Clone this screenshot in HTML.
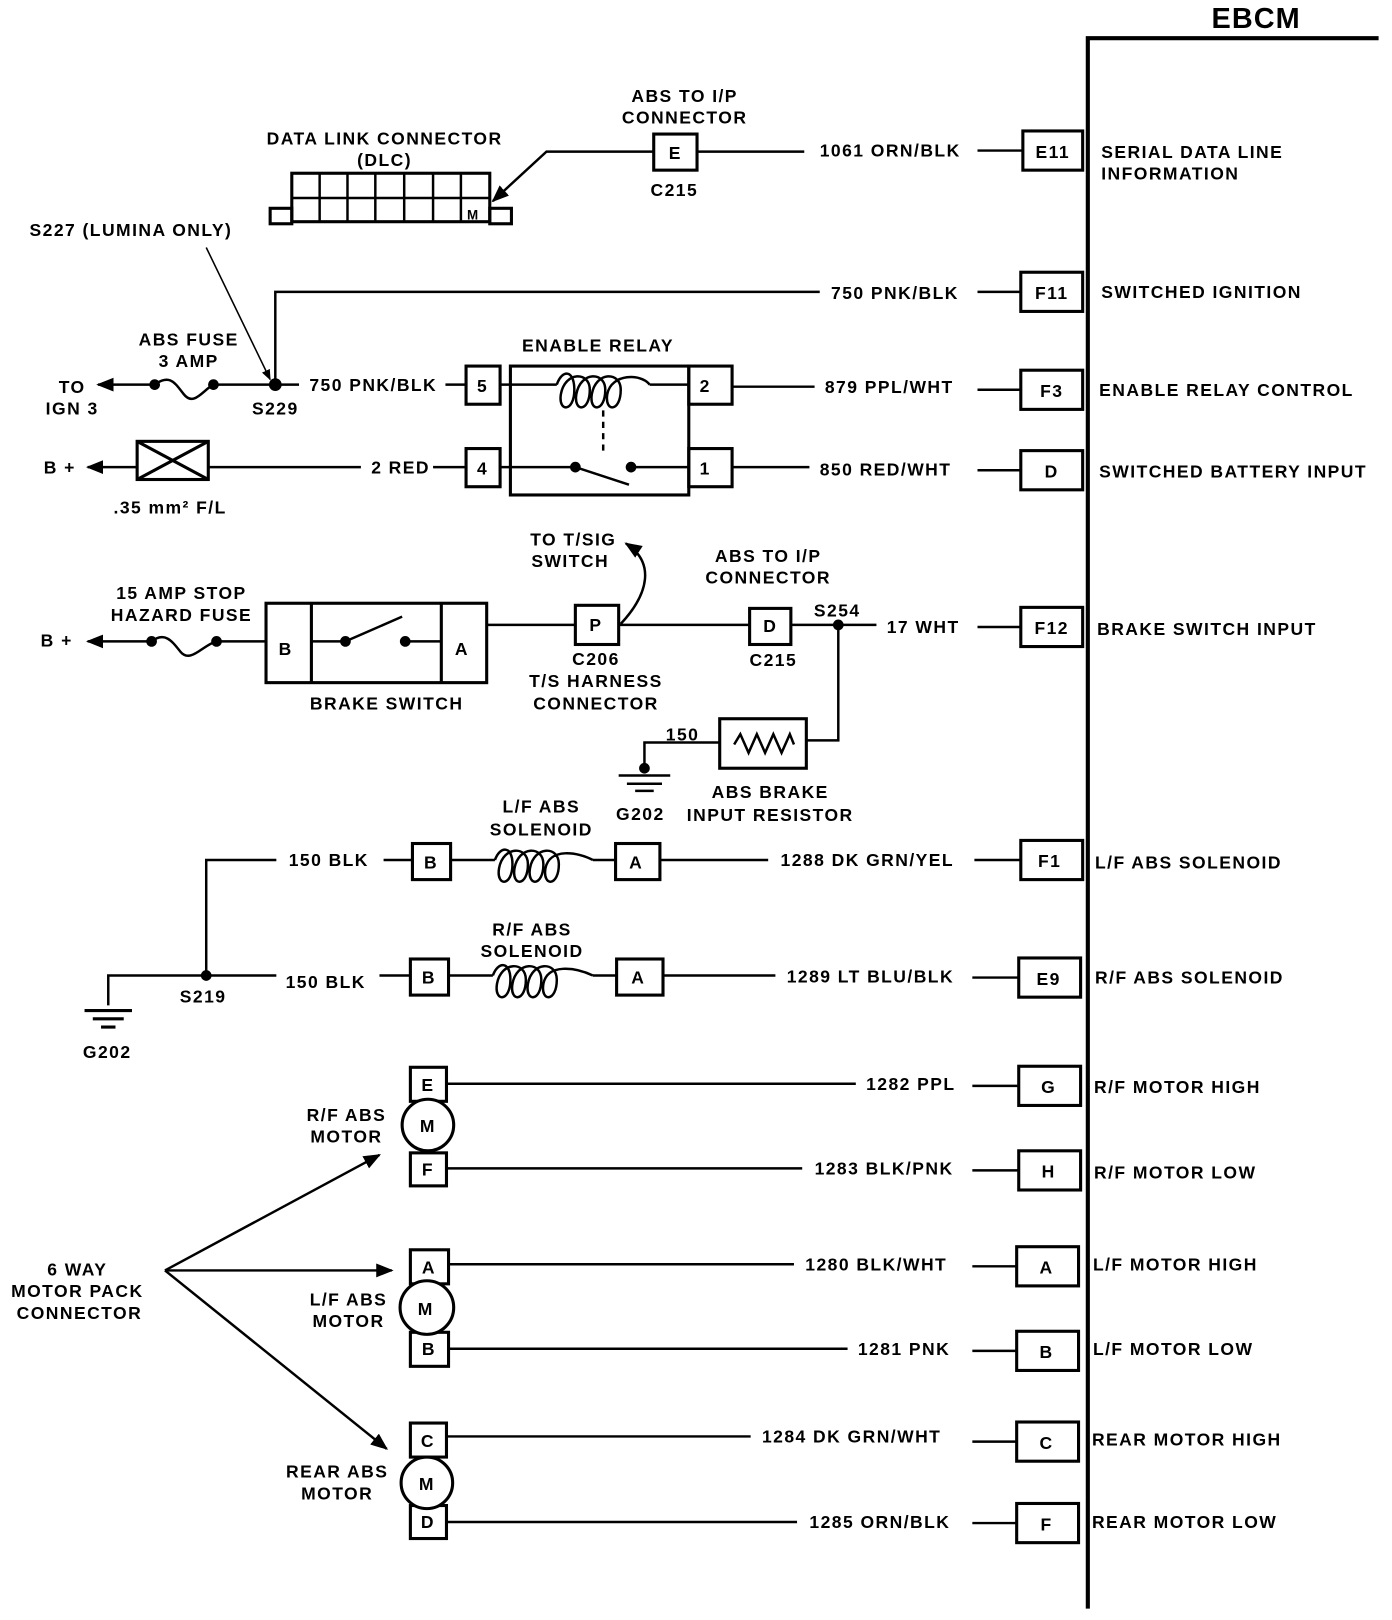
<!DOCTYPE html>
<html><head><meta charset="utf-8"><style>
html,body{margin:0;padding:0;background:#fff}
svg{display:block}
text{font-family:"Liberation Sans",sans-serif;font-weight:bold;font-size:17px;fill:#000;letter-spacing:1.4px}
.m{text-anchor:middle}
</style></head><body>
<svg width="1392" height="1620" viewBox="0 0 1350 1571" preserveAspectRatio="none" xmlns="http://www.w3.org/2000/svg">
<defs><marker id="ar" viewBox="0 0 10 10" refX="9" refY="5" markerWidth="7" markerHeight="7" orient="auto"><path d="M0,1 L10,5 L0,9 z" fill="#000"/></marker></defs>
<g stroke="#000" fill="none" stroke-width="2.4">
<path d="M1055,1560 V37 H1337" stroke-width="4"/>
<g stroke-width="3" fill="#fff">
<rect x="992" y="127" width="58" height="38"/><rect x="990" y="264" width="60" height="38"/>
<rect x="990" y="359" width="60" height="38"/><rect x="990" y="437" width="60" height="38"/>
<rect x="990" y="589" width="60" height="38"/><rect x="990" y="815" width="60" height="38"/>
<rect x="988" y="929" width="60" height="38"/><rect x="988" y="1034" width="60" height="38"/>
<rect x="988" y="1116" width="60" height="38"/><rect x="986" y="1209" width="60" height="38"/>
<rect x="986" y="1291" width="60" height="38"/><rect x="986" y="1379" width="60" height="38"/>
<rect x="986" y="1458" width="60" height="38"/>
</g>
<path d="M948,146H992 M948,283H990 M948,378H990 M948,456H990 M948,608H990 M945,834H990 M943,948H988 M943,1053H988 M943,1135H988 M943,1228H986 M943,1310H986 M943,1398H986 M943,1477H986"/>
<rect x="634" y="130" width="42" height="35" stroke-width="3"/>
<path d="M676,147H780"/>
<path d="M634,147H530L478,195" marker-end="url(#ar)"/>
<rect x="283" y="168" width="192" height="47" stroke-width="3"/>
<path d="M283,192H475 M310,168V215 M337,168V215 M364,168V215 M392,168V215 M420,168V215 M447,168V215"/>
<rect x="262" y="202" width="21" height="15" stroke-width="3"/><rect x="475" y="202" width="21" height="15" stroke-width="3"/>
<path d="M200,240L262,368" marker-end="url(#ar)" stroke-width="1.5"/>
<path d="M267,373V283H795"/>
<path d="M150,373H95" marker-end="url(#ar)"/>
<path d="M150,373 C165,362 170,372 178,382 C188,395 197,378 207,373 H290"/>
<circle cx="150" cy="373" r="4" fill="#000"/><circle cx="207" cy="373" r="4" fill="#000"/><circle cx="267" cy="373" r="5" fill="#000"/>
<path d="M432,373H452"/>
<rect x="452" y="355" width="33" height="37" stroke-width="3"/>
<rect x="495" y="355" width="173" height="125" stroke-width="3"/>
<rect x="668" y="355" width="42" height="37" stroke-width="3"/>
<path d="M485,373H495 M495,373H540 M630,373H668"/>
<path d="M540,373 C545,358 557,358 557,378 C557,400 541,400 544,382 C548,360 572,360 572,378 C572,400 556,400 559,382 C563,360 587,360 587,378 C587,400 571,400 574,382 C578,360 602,360 602,378 C602,400 586,400 589,382 C593,362 622,362 630,373"/>
<path d="M585,398V442" stroke-dasharray="6,5"/>
<path d="M710,375H790"/>
<path d="M133,453H85" marker-end="url(#ar)"/>
<rect x="133" y="428" width="69" height="37" stroke-width="3"/>
<path d="M133,428L202,465 M202,428L133,465" stroke-width="3"/>
<path d="M202,453H350 M420,453H452"/>
<rect x="452" y="435" width="33" height="37" stroke-width="3"/>
<rect x="668" y="435" width="42" height="37" stroke-width="3"/>
<path d="M485,453H558L610,470 M612,453H668 M710,453H785"/>
<circle cx="558" cy="453" r="4" fill="#000"/><circle cx="612" cy="453" r="4" fill="#000"/>
<path d="M147,622H85" marker-end="url(#ar)"/>
<path d="M147,622 C160,612 167,622 175,632 C185,644 197,625 210,622 H258"/>
<circle cx="147" cy="622" r="4" fill="#000"/><circle cx="210" cy="622" r="4" fill="#000"/>
<rect x="258" y="585" width="214" height="77" stroke-width="3"/>
<path d="M302,585V662 M428,585V662" stroke-width="3"/>
<path d="M302,622H335L390,598 M393,622H428"/>
<circle cx="335" cy="622" r="4" fill="#000"/><circle cx="393" cy="622" r="4" fill="#000"/>
<path d="M472,606H558"/>
<rect x="558" y="587" width="42" height="38" stroke-width="3"/>
<path d="M600,606H727"/>
<path d="M602,605 C630,575 635,545 607,527" marker-end="url(#ar)"/>
<rect x="727" y="590" width="40" height="35" stroke-width="3"/>
<path d="M767,606H850 M813,606V718H782"/>
<circle cx="813" cy="606" r="4" fill="#000"/>
<rect x="698" y="697" width="84" height="48" stroke-width="3"/>
<path d="M712,722L718,712L726,730L734,712L742,730L750,712L758,730L766,712L770,722"/>
<path d="M698,720H625V745"/>
<circle cx="625" cy="745" r="4" fill="#000"/>
<path d="M600,752H650 M608,760H642 M616,767H634"/>
<path d="M200,946V834H268 M372,834H400"/>
<rect x="400" y="818" width="37" height="35" stroke-width="3"/>
<path d="M437,834H480 M575,834H597 M640,834H745"/>
<path d="M480,834 C485,820 497,820 497,838 C497,860 481,860 484,842 C488,820 512,820 512,838 C512,860 496,860 499,842 C503,820 527,820 527,838 C527,860 511,860 514,842 C518,820 542,820 542,838 C542,860 526,860 529,842 C533,822 560,826 575,834"/>
<rect x="597" y="818" width="43" height="35" stroke-width="3"/>
<path d="M105,975V946H268 M368,946H398"/>
<circle cx="200" cy="946" r="4" fill="#000"/>
<path d="M82,980H128 M90,988H120 M98,996H112" stroke-width="3"/>
<rect x="398" y="930" width="37" height="35" stroke-width="3"/>
<path d="M435,946H478 M575,946H598 M643,946H752"/>
<path d="M478,946 C483,932 495,932 495,950 C495,972 479,972 482,954 C486,932 510,932 510,950 C510,972 494,972 497,954 C501,932 525,932 525,950 C525,972 509,972 512,954 C516,932 540,932 540,950 C540,972 524,972 527,954 C531,934 558,938 575,946"/>
<rect x="598" y="930" width="45" height="35" stroke-width="3"/>
<g stroke-width="3">
<rect x="398" y="1035" width="35" height="33" fill="#fff"/><rect x="398" y="1118" width="35" height="32" fill="#fff"/>
<circle cx="415" cy="1091" r="25" fill="#fff"/>
<rect x="398" y="1212" width="37" height="33" fill="#fff"/><rect x="398" y="1292" width="37" height="33" fill="#fff"/>
<circle cx="414" cy="1268" r="26" fill="#fff"/>
<rect x="398" y="1380" width="35" height="33" fill="#fff"/><rect x="398" y="1460" width="35" height="32" fill="#fff"/>
<circle cx="414" cy="1438" r="25" fill="#fff"/>
</g>
<path d="M433,1051H830 M433,1133H778 M435,1226H770 M435,1308H822 M433,1393H728 M433,1476H773"/>
<path d="M160,1232L368,1120" marker-end="url(#ar)"/>
<path d="M160,1232H380" marker-end="url(#ar)"/>
<path d="M160,1232L375,1405" marker-end="url(#ar)"/>
</g>
<text x="1175" y="27" style="font-size:28px;letter-spacing:1px">EBCM</text>
<g>
<text x="1021" y="153" class="m">E11</text><text x="1020" y="290" class="m">F11</text>
<text x="1020" y="385" class="m">F3</text><text x="1020" y="463" class="m">D</text>
<text x="1020" y="615" class="m">F12</text><text x="1018" y="841" class="m">F1</text>
<text x="1017" y="955" class="m">E9</text><text x="1017" y="1060" class="m">G</text>
<text x="1017" y="1142" class="m">H</text><text x="1015" y="1235" class="m">A</text>
<text x="1015" y="1317" class="m">B</text><text x="1015" y="1405" class="m">C</text>
<text x="1015" y="1484" class="m">F</text>
</g>
<g>
<text x="1068" y="153">SERIAL DATA LINE</text><text x="1068" y="174">INFORMATION</text>
<text x="1068" y="289">SWITCHED IGNITION</text>
<text x="1066" y="384">ENABLE RELAY CONTROL</text>
<text x="1066" y="463">SWITCHED BATTERY INPUT</text>
<text x="1064" y="616">BRAKE SWITCH INPUT</text>
<text x="1062" y="842">L/F ABS SOLENOID</text>
<text x="1062" y="954">R/F ABS SOLENOID</text>
<text x="1061" y="1060">R/F MOTOR HIGH</text>
<text x="1061" y="1143">R/F MOTOR LOW</text>
<text x="1060" y="1232">L/F MOTOR HIGH</text>
<text x="1060" y="1314">L/F MOTOR LOW</text>
<text x="1059" y="1402">REAR MOTOR HIGH</text>
<text x="1059" y="1482">REAR MOTOR LOW</text>
</g>
<g>
<text x="795" y="152">1061 ORN/BLK</text>
<text x="806" y="290">750 PNK/BLK</text>
<text x="800" y="381">879 PPL/WHT</text>
<text x="795" y="461">850 RED/WHT</text>
<text x="860" y="614">17 WHT</text>
<text x="757" y="840">1288 DK GRN/YEL</text>
<text x="763" y="953">1289 LT BLU/BLK</text>
<text x="840" y="1057">1282 PPL</text>
<text x="790" y="1139">1283 BLK/PNK</text>
<text x="781" y="1232">1280 BLK/WHT</text>
<text x="832" y="1314">1281 PNK</text>
<text x="739" y="1399">1284 DK GRN/WHT</text>
<text x="785" y="1482">1285 ORN/BLK</text>
<text x="300" y="379">750 PNK/BLK</text>
<text x="360" y="459">2 RED</text>
<text x="280" y="840">150 BLK</text>
<text x="277" y="958">150 BLK</text>
</g>
<g>
<text x="664" y="99" class="m">ABS TO I/P</text><text x="664" y="120" class="m">CONNECTOR</text>
<text x="655" y="154" class="m">E</text><text x="654" y="190" class="m">C215</text>
<text x="373" y="140" class="m">DATA LINK CONNECTOR</text><text x="373" y="161" class="m">(DLC)</text>
<text x="459" y="213" class="m" style="font-size:13px">M</text>
<text x="127" y="229" class="m">S227 (LUMINA ONLY)</text>
<text x="183" y="335" class="m">ABS FUSE</text><text x="183" y="356" class="m">3 AMP</text>
<text x="70" y="381" class="m">TO</text><text x="70" y="402" class="m">IGN 3</text>
<text x="267" y="402" class="m">S229</text>
<text x="580" y="341" class="m">ENABLE RELAY</text>
<text x="468" y="380" class="m">5</text><text x="684" y="380" class="m">2</text>
<text x="468" y="460" class="m">4</text><text x="684" y="460" class="m">1</text>
<text x="58" y="459" class="m">B +</text>
<text x="165" y="498" class="m">.35 mm² F/L</text>
<text x="556" y="529" class="m">TO T/SIG</text><text x="553" y="550" class="m">SWITCH</text>
<text x="745" y="545" class="m">ABS TO I/P</text><text x="745" y="566" class="m">CONNECTOR</text>
<text x="812" y="598" class="m">S254</text>
<text x="176" y="581" class="m">15 AMP STOP</text><text x="176" y="602" class="m">HAZARD FUSE</text>
<text x="55" y="627" class="m">B +</text>
<text x="277" y="635" class="m">B</text><text x="448" y="635" class="m">A</text>
<text x="375" y="688" class="m">BRAKE SWITCH</text>
<text x="578" y="612" class="m">P</text><text x="747" y="613" class="m">D</text>
<text x="578" y="645" class="m">C206</text><text x="578" y="666" class="m">T/S HARNESS</text><text x="578" y="688" class="m">CONNECTOR</text>
<text x="750" y="646" class="m">C215</text>
<text x="662" y="718" class="m">150</text>
<text x="621" y="795" class="m">G202</text>
<text x="747" y="774" class="m">ABS BRAKE</text><text x="747" y="796" class="m">INPUT RESISTOR</text>
<text x="525" y="788" class="m">L/F ABS</text><text x="525" y="810" class="m">SOLENOID</text>
<text x="418" y="842" class="m">B</text><text x="617" y="842" class="m">A</text>
<text x="516" y="907" class="m">R/F ABS</text><text x="516" y="928" class="m">SOLENOID</text>
<text x="416" y="954" class="m">B</text><text x="619" y="954" class="m">A</text>
<text x="197" y="972" class="m">S219</text>
<text x="104" y="1026" class="m">G202</text>
<text x="415" y="1058" class="m">E</text><text x="415" y="1098" class="m">M</text><text x="415" y="1140" class="m">F</text>
<text x="416" y="1235" class="m">A</text><text x="413" y="1275" class="m">M</text><text x="416" y="1314" class="m">B</text>
<text x="415" y="1403" class="m">C</text><text x="414" y="1445" class="m">M</text><text x="415" y="1482" class="m">D</text>
<text x="336" y="1087" class="m">R/F ABS</text><text x="336" y="1108" class="m">MOTOR</text>
<text x="338" y="1266" class="m">L/F ABS</text><text x="338" y="1287" class="m">MOTOR</text>
<text x="327" y="1433" class="m">REAR ABS</text><text x="327" y="1454" class="m">MOTOR</text>
<text x="75" y="1237" class="m">6 WAY</text><text x="75" y="1258" class="m">MOTOR PACK</text><text x="77" y="1279" class="m">CONNECTOR</text>
</g>
</svg>
</body></html>
